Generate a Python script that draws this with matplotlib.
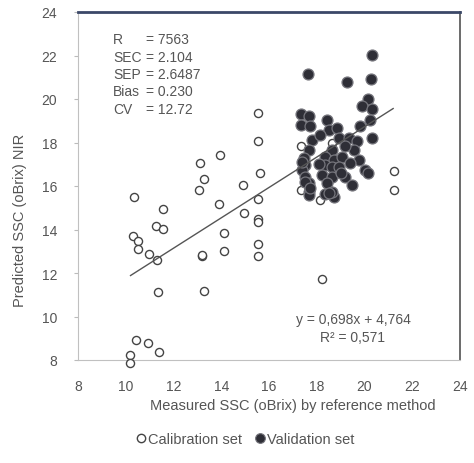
import numpy as np
import matplotlib
matplotlib.use("Agg")
import matplotlib.pyplot as plt
from matplotlib.lines import Line2D

plt.rcParams['font.family'] = ['Liberation Sans', 'DejaVu Sans']

# calibration set (open circles)
cal_x = [10.35, 11.57, 11.25, 11.57, 10.31, 10.52, 10.52, 10.97, 11.29, 11.36,
         10.41, 10.94, 11.40, 10.17, 10.17,
         13.11, 13.95, 13.29, 13.07, 14.90, 13.91, 15.56, 15.56, 15.63, 15.56,
         14.96, 15.56, 15.52, 14.12, 15.56, 15.56, 14.12, 13.18, 13.20, 13.27,
         18.22, 21.24, 21.24, 17.36, 17.36, 18.15, 18.62]
cal_y = [15.50, 14.96, 14.14, 14.03, 13.72, 13.46, 13.10, 12.87, 12.59, 11.13,
         8.93, 8.78, 8.36, 8.24, 7.85,
         17.04, 17.43, 16.30, 15.81, 16.04, 15.16, 19.36, 18.05, 16.58, 15.42,
         14.77, 14.49, 14.34, 13.85, 13.34, 12.80, 13.00, 12.80, 12.85, 11.17,
         11.74, 16.69, 15.81, 17.82, 15.81, 15.34, 17.97]

# validation set (filled)
val_x = [17.64, 20.32, 19.27, 20.27, 20.16, 19.90, 20.30, 20.25, 20.32, 19.81,
         17.36, 17.66, 17.36, 17.73, 18.43, 18.50, 18.85, 18.92, 17.80, 17.66,
         18.15, 19.34, 19.69, 19.55, 19.20, 18.64, 18.36, 18.71, 19.06, 19.76,
         17.52, 17.38, 18.36, 18.64, 18.92, 19.41, 20.04, 20.16, 17.52, 18.22,
         18.64, 19.20, 19.48, 17.66, 18.43, 17.66, 18.36, 18.71, 18.64, 17.66,
         17.45, 17.50, 17.70, 17.40, 18.10, 18.50, 19.00]
val_y = [21.17, 22.02, 20.79, 20.91, 19.98, 19.67, 19.52, 19.05, 18.20, 18.74,
         19.29, 19.21, 18.82, 18.74, 19.05, 18.59, 18.67, 18.20, 18.13, 17.66,
         18.36, 18.20, 18.05, 17.66, 17.82, 17.66, 17.35, 17.20, 17.35, 17.20,
         16.96, 16.74, 16.97, 16.89, 16.89, 17.04, 16.74, 16.61, 16.43, 16.50,
         16.43, 16.43, 16.04, 16.12, 16.12, 15.73, 15.65, 15.50, 15.73, 15.57,
         17.30, 16.20, 15.90, 17.10, 17.00, 15.70, 16.60]

slope, intercept = 0.698, 4.764
fit_range = [10.2, 21.2]

stat_names = ['R', 'SEC', 'SEP', 'Bias', 'CV']
stat_values = ['= 7563', '= 2.104', '= 2.6487', '= 0.230', '= 12.72']

ticks = [8, 10, 12, 14, 16, 18, 20, 22, 24]
txt = '#555555'

fig = plt.figure(figsize=(4.74, 4.64), dpi=100)
ax = fig.add_axes([78 / 474, 1 - 361 / 464, (460 - 78) / 474, (361 - 13) / 464])

ax.scatter(cal_x, cal_y, s=34, facecolors='white', edgecolors='#444444',
           linewidths=1.0, zorder=3, clip_on=False)
ax.scatter(val_x, val_y, s=62, facecolors='#2e2e36', edgecolors='#75757c',
           linewidths=0.9, zorder=4, clip_on=False)

fx = np.array(fit_range)
ax.plot(fx, slope * fx + intercept, color='#555555', lw=1.0, zorder=5)

ax.set_xlim(8, 24)
ax.set_ylim(8, 24)
ax.set_xticks(ticks)
ax.set_yticks(ticks)
ax.tick_params(axis='x', length=0, pad=14, labelsize=10, labelcolor=txt)
ax.tick_params(axis='y', length=3, color='#bbbbbb', pad=12, labelsize=10, labelcolor=txt)

for side in ['left', 'bottom']:
    ax.spines[side].set_color('#c0c0c0')
    ax.spines[side].set_linewidth(0.8)
ax.spines['top'].set_color('#3b4868')
ax.spines['top'].set_linewidth(2.0)
ax.spines['right'].set_color('#6a6a6a')
ax.spines['right'].set_linewidth(1.4)

for i, (n, v) in enumerate(zip(stat_names, stat_values)):
    yy = 1 - (40 + i * 17.5) / 464
    fig.text(113 / 474, yy, n, ha='left', va='center', fontsize=10, color=txt)
    fig.text(146 / 474, yy, v, ha='left', va='center', fontsize=10, color=txt)

fig.text(353 / 474, 1 - 320 / 464, 'y = 0,698x + 4,764', ha='center', va='center',
         fontsize=10, color=txt)
fig.text(353 / 474, 1 - 338 / 464, 'R² = 0,571', ha='center', va='center',
         fontsize=10, color=txt)

fig.text(293 / 474, 1 - 406 / 464, 'Measured SSC (oBrix) by reference method',
         ha='center', va='center', fontsize=10.5, color=txt)
fig.text(20 / 474, 1 - 220 / 464, 'Predicted SSC (oBrix) NIR', rotation=90,
         ha='center', va='center', fontsize=10.5, color=txt)

handles = [Line2D([], [], marker='o', ls='', markersize=6, markerfacecolor='white',
                  markeredgecolor='#444444', markeredgewidth=1.0),
           Line2D([], [], marker='o', ls='', markersize=7, markerfacecolor='#2e2e36',
                  markeredgecolor='#75757c', markeredgewidth=0.8)]
fig.legend(handles, ['Calibration set', 'Validation set'], loc='center',
           bbox_to_anchor=(245 / 474, 1 - 440 / 464), ncol=2, frameon=False,
           handletextpad=0.1, columnspacing=0.8, handlelength=0.8,
           prop={'size': 10.5}, labelcolor=txt)

fig.savefig('out.png', dpi=100)
